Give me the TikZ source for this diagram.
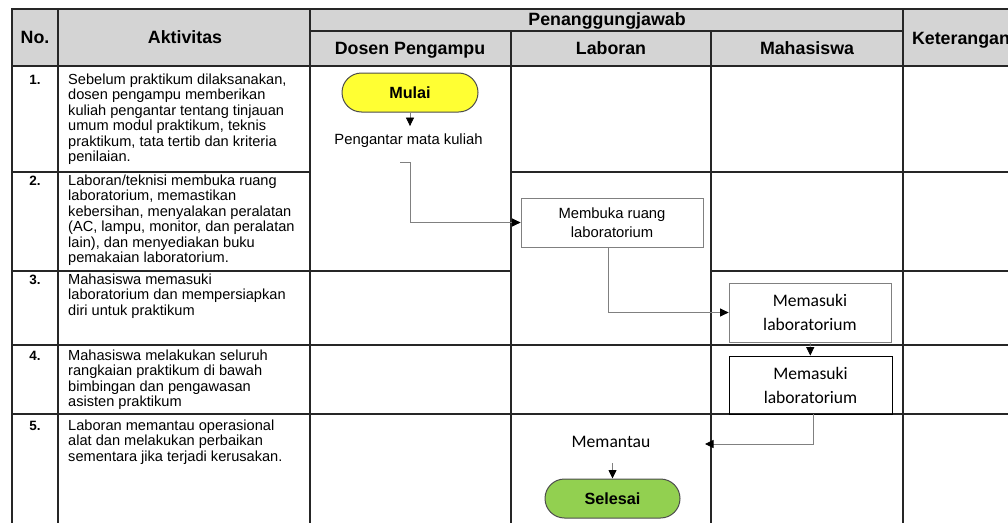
\documentclass[tikz,border=0pt]{standalone}
\usepackage{xcolor}
\usepackage{fontspec}
\setmainfont{Liberation Sans}
\newfontfamily\carlito{Carlito}
\usepackage{tikz}
\usetikzlibrary{arrows.meta}
\definecolor{hdrgray}{RGB}{212,212,212}
\definecolor{mulaiyellow}{RGB}{255,255,51}
\definecolor{selesaigreen}{RGB}{146,208,80}
\tikzstyle{terminal} = [rectangle, rounded corners=19.5pt, minimum width=136pt, minimum height=39pt, draw=black!70, line width=1pt, font=\fontsize{16.2}{18}\selectfont\bfseries]
\tikzstyle{process} = [rectangle, draw=gray, line width=0.8pt, align=center, inner sep=0pt]
\tikzstyle{arrow} = [draw=gray, line width=0.8pt, -{Triangle[length=8.5pt,width=8pt,color=black,fill=black]}]
\tikzstyle{hdr} = [anchor=base, inner sep=0pt, font=\fontsize{17.8}{20}\selectfont\bfseries]
\tikzstyle{num} = [anchor=base, inner sep=0pt, font=\fontsize{13.5}{15}\selectfont\bfseries]
\tikzstyle{aktiv} = [anchor=north west, inner sep=0pt, align=left, font=\fontsize{14.6}{15.5}\selectfont]
\tikzstyle{tabline} = [line width=1.2pt, black!85]

\begin{document}
\begin{tikzpicture}[x=1pt, y=-1pt]
	\useasboundingbox (0,0) rectangle (1008,522);
	\clip (0,0) rectangle (1008,522);

	% table
	\fill [hdrgray] (12,9) rectangle (1019,66);
	\draw [tabline] (12,9) rectangle (1019,540);
	\draw [tabline] (58,9) -- (58,540) (310,9) -- (310,540) (903,9) -- (903,540);
	\draw [tabline] (511,31) -- (511,540) (711,31) -- (711,540);
	\draw [tabline] (310,31) -- (903,31);
	\draw [tabline] (12,66) -- (1019,66);
	\draw [tabline] (12,172) -- (310,172) (511,172) -- (1019,172);
	\draw [tabline] (12,271) -- (511,271) (711,271) -- (1019,271);
	\draw [tabline] (12,345) -- (1019,345);
	\draw [tabline] (12,414) -- (1019,414);

	\node (hno) [hdr] at (35,43.5) {No.};
	\node (hakt) [hdr] at (185,43.5) {Aktivitas};
	\node (hpj) [hdr] at (607,25) {Penanggungjawab};
	\node (hdosen) [hdr] at (410,54.5) {Dosen Pengampu};
	\node (hlab) [hdr] at (611,54.5) {Laboran};
	\node (hmhs) [hdr] at (807,54.5) {Mahasiswa};
	\node (hket) [hdr] at (961,44) {Keterangan};

	% aktivitas
	\node (n1) [num] at (35,84) {1.};
	\node (a1) [aktiv] at (68,73.5) {Sebelum praktikum dilaksanakan,\\dosen pengampu memberikan\\kuliah pengantar tentang tinjauan\\umum modul praktikum, teknis\\praktikum, tata tertib dan kriteria\\penilaian.};
	\node (n2) [num] at (35,185) {2.};
	\node (a2) [aktiv] at (68,174.5) {Laboran/teknisi membuka ruang\\laboratorium, memastikan\\kebersihan, menyalakan peralatan\\(AC, lampu, monitor, dan peralatan\\lain), dan menyediakan buku\\pemakaian laboratorium.};
	\node (n3) [num] at (35,284) {3.};
	\node (a3) [aktiv] at (68,273.5) {Mahasiswa memasuki\\laboratorium dan mempersiapkan\\diri untuk praktikum};
	\node (n4) [num] at (35,360) {4.};
	\node (a4) [aktiv] at (68,349.5) {Mahasiswa melakukan seluruh\\rangkaian praktikum di bawah\\bimbingan dan pengawasan\\asisten praktikum};
	\node (n5) [num] at (35,430) {5.};
	\node (a5) [aktiv] at (68,419.5) {Laboran memantau operasional\\alat dan melakukan perbaikan\\sementara jika terjadi kerusakan.};

	% alur
	\node (mulai) [terminal, fill=mulaiyellow] at (410,92.5) {Mulai};
	\node (pengantar) [anchor=base, inner sep=0pt, font=\fontsize{14.8}{17}\selectfont] at (408.5,144) {Pengantar mata kuliah};
	\node (membuka) [process, minimum width=182pt, minimum height=49pt, font=\fontsize{14.8}{19}\selectfont] at (612,222.5) {Membuka ruang\\laboratorium};
	\node (masuk1) [process, minimum width=162pt, minimum height=59pt, font=\carlito\fontsize{17.6}{24}\selectfont] at (810,312.5) {Memasuki\\laboratorium};
	\node (masuk2) [process, draw=black, minimum width=163pt, minimum height=58pt, font=\carlito\fontsize{17.6}{24}\selectfont] at (810.5,385) {Memasuki\\laboratorium};
	\node (memantau) [anchor=base, inner sep=0pt, font=\carlito\fontsize{17.6}{20}\selectfont] at (611,447) {Memantau};
	\node (selesai) [terminal, fill=selesaigreen, minimum width=135pt] at (612.5,498.5) {Selesai};

	\coordinate (awal) at (400,162);
	\coordinate (balik) at (705,444);

	\draw [arrow, shorten >=7pt] (mulai.south) -- (mulai.south |- pengantar.north);
	\draw [arrow] (awal) -- ++(10,0) |- (membuka.west);
	\draw [arrow] ([xshift=-4pt]membuka.south) |- (masuk1.west);
	\draw [arrow] (masuk1) -- (masuk2);
	\draw [arrow] ([xshift=3pt]masuk2.south) |- (balik);
	\draw [arrow, shorten <=16pt] (selesai.north |- memantau.south) -- (selesai.north);

\end{tikzpicture}
\end{document}
